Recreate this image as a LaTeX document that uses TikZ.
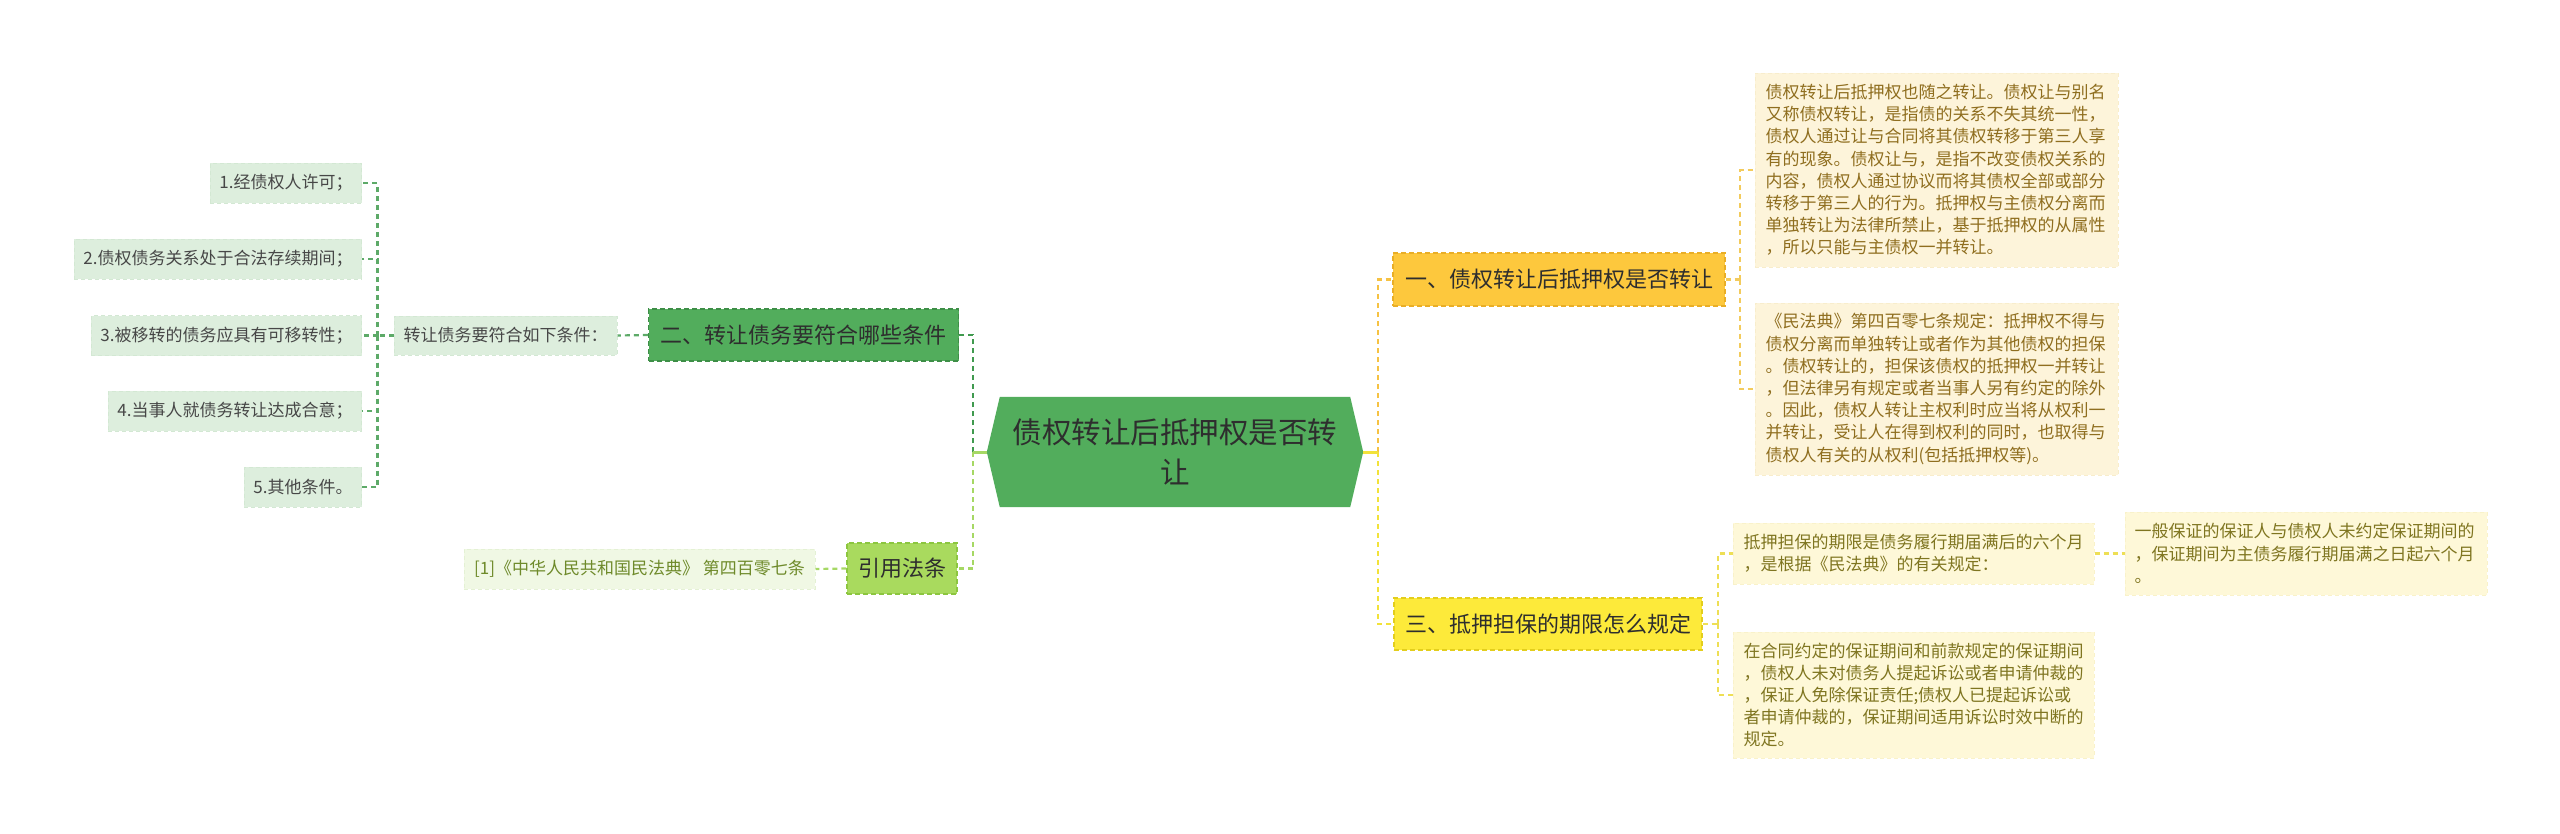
\documentclass[tikz,border=0pt]{standalone}
\usepackage{fontspec}
\setmainfont{Noto Sans CJK SC}
\usetikzlibrary{backgrounds}
\definecolor{cfill}{HTML}{52AD5C}
\definecolor{cborder}{HTML}{3E8E47}
\definecolor{itemfill}{HTML}{DDEEDD}
\definecolor{itemborder}{HTML}{D3E8D3}
\definecolor{citefill}{HTML}{A9DA5E}
\definecolor{citeborder}{HTML}{8CC63F}
\definecolor{lawfill}{HTML}{F0F8E4}
\definecolor{lawborder}{HTML}{E4F1D4}
\definecolor{lawtext}{HTML}{6E8A2A}
\definecolor{amberfill}{HTML}{FDC83D}
\definecolor{amberborder}{HTML}{E9AE26}
\definecolor{yelfill}{HTML}{FDEA3A}
\definecolor{yelborder}{HTML}{E3CE1C}
\definecolor{creamfill}{HTML}{FDF4DA}
\definecolor{creamborder}{HTML}{F8EDCC}
\definecolor{creamtext}{HTML}{8F6E1F}
\definecolor{paleyfill}{HTML}{FEF8D8}
\definecolor{paleyborder}{HTML}{F9F2CA}
\definecolor{paleytext}{HTML}{7F7520}
\definecolor{darkgline}{HTML}{409A4F}
\definecolor{midgline}{HTML}{5DAA68}
\definecolor{lightgline}{HTML}{A6D864}
\definecolor{amberline}{HTML}{F6C243}
\definecolor{amberline2}{HTML}{F3CB5C}
\definecolor{yelline}{HTML}{F2E23A}
\definecolor{yelline2}{HTML}{EEDF55}
\definecolor{darktext}{HTML}{2E2E2E}
\definecolor{itemtext}{HTML}{474747}
\tikzset{
  link/.style={line width=2.2pt, dash pattern=on 5pt off 4pt},
  stub/.style={line width=3pt},
  ctext/.style={minimum width=376pt, minimum height=110pt, inner sep=0pt, align=center,
    text=darktext, font=\fontsize{29.5pt}{40pt}\selectfont},
  second/.style={minimum height=52pt, inner xsep=11pt, inner ysep=0pt, text=darktext,
    font=\fontsize{22pt}{26pt}\selectfont, line width=1.4pt, dash pattern=on 5pt off 3pt},
  item/.style={fill=itemfill, draw=itemborder, line width=1pt, dash pattern=on 4pt off 3pt,
    minimum height=40pt, inner xsep=9pt, inner ysep=0pt, text=itemtext,
    font=\fontsize{17pt}{20pt}\selectfont},
  tbox/.style={line width=1pt, dash pattern=on 4pt off 3pt, inner xsep=10.5pt, inner ysep=0pt,
    text width=342pt, align=left, font=\fontsize{17pt}{22.2pt}\selectfont},
  creambox/.style={tbox, fill=creamfill, draw=creamborder, text=creamtext},
  paleybox/.style={tbox, fill=paleyfill, draw=paleyborder, text=paleytext}
}
\begin{document}
\begin{tikzpicture}[x=1pt,y=-1pt]
\useasboundingbox (0,0) rectangle (2560,833);
\begin{scope}[on background layer]
\fill[white] (0,0) rectangle (2560,833);
\end{scope}

% central node
\node[ctext] (c) at (1175,452) {债权转让后抵押权是否转\\让};
\begin{scope}[on background layer]
\fill[cfill] (c.west) -- ([xshift=13pt]c.north west) -- ([xshift=-13pt]c.north east)
  -- (c.east) -- ([xshift=-13pt]c.south east) -- ([xshift=13pt]c.south west) -- cycle;
\end{scope}

% left side
\node[second, fill=cfill, draw=cborder, minimum width=310pt] (n2) at (803.5,335) {二、转让债务要符合哪些条件};
\node[item, minimum width=223pt, minimum height=39pt] (n3) at (505.5,335.5) {转让债务要符合如下条件：};
\node[item, anchor=east] (i1) at (362,183) {1.经债权人许可；};
\node[item, anchor=east] (i2) at (362,259) {2.债权债务关系处于合法存续期间；};
\node[item, anchor=east] (i3) at (362,335.5) {3.被移转的债务应具有可移转性；};
\node[item, anchor=east] (i4) at (362,411) {4.当事人就债务转让达成合意；};
\node[item, anchor=east] (i5) at (362,487) {5.其他条件。};
\node[second, fill=citefill, draw=citeborder, minimum width=110pt, minimum height=51pt] (n4) at (902,568.5) {引用法条};
\node[item, fill=lawfill, draw=lawborder, text=lawtext, minimum width=351pt] (n5) at (639.5,569) {[1]《中华人民共和国民法典》 第四百零七条};

% right side
\node[second, fill=amberfill, draw=amberborder, minimum width=332pt, minimum height=53pt] (r1) at (1559,279.5) {一、债权转让后抵押权是否转让};
\node[second, fill=yelfill, draw=yelborder, minimum width=308pt] (r3) at (1548,624) {三、抵押担保的期限怎么规定};
\node[creambox, minimum height=194pt] (A) at (1936.5,170) {债权转让后抵押权也随之转让。债权让与别名\\又称债权转让，是指债的关系不失其统一性，\\债权人通过让与合同将其债权转移于第三人享\\有的现象。债权让与，是指不改变债权关系的\\内容，债权人通过协议而将其债权全部或部分\\转移于第三人的行为。抵押权与主债权分离而\\单独转让为法律所禁止，基于抵押权的从属性\\，所以只能与主债权一并转让。};
\node[creambox, minimum height=172pt] (B) at (1936.5,389) {《民法典》第四百零七条规定：抵押权不得与\\债权分离而单独转让或者作为其他债权的担保\\。债权转让的，担保该债权的抵押权一并转让\\，但法律另有规定或者当事人另有约定的除外\\。因此，债权人转让主权利时应当将从权利一\\并转让，受让人在得到权利的同时，也取得与\\债权人有关的从权利(包括抵押权等)。};
\node[paleybox, minimum height=61pt, text width=340pt] (C) at (1913.5,553.5) {抵押担保的期限是债务履行期届满后的六个月\\，是根据《民法典》的有关规定：};
\node[paleybox, minimum height=83pt, text width=343pt, inner xsep=9.5pt] (D) at (2306,553.5) {一般保证的保证人与债权人未约定保证期间的\\，保证期间为主债务履行期届满之日起六个月\\。};
\node[paleybox, minimum height=126pt, text width=340pt] (E) at (1913.5,695) {在合同约定的保证期间和前款规定的保证期间\\，债权人未对债务人提起诉讼或者申请仲裁的\\，保证人免除保证责任;债权人已提起诉讼或\\者申请仲裁的，保证期间适用诉讼时效中断的\\规定。};

% bus coordinates
\coordinate (lb) at (973,452);
\coordinate (rb) at (1378,452);
\coordinate (ib) at (377.5,335.5);
\coordinate (ab) at (1740,279.5);
\coordinate (cb) at (1718,624);

% left connectors
\draw[link, darkgline] (lb) |- (n2.east);
\draw[link, lightgline] (lb) |- (n4.east);
\draw[stub, lightgline] (c.west) -- (lb);
\draw[link, midgline] (n2.west) -- (n3.east);
\draw[link, midgline] (n3.west) -- (ib);
\draw[link, midgline] (ib) |- (i1.east);
\draw[link, midgline] (ib) |- (i2.east);
\draw[link, midgline] (ib) -- (i3.east);
\draw[link, midgline] (ib) |- (i4.east);
\draw[link, midgline] (ib) |- (i5.east);
\draw[link, lightgline] (n4.west) -- (n5.east);

% right connectors
\draw[link, amberline] (rb) |- (r1.west);
\draw[link, yelline] (rb) |- (r3.west);
\draw[stub, yelline] (c.east) -- (rb);
\draw[link, amberline2] (r1.east) -- (ab);
\draw[link, amberline2] (ab) |- (A.west);
\draw[link, amberline2] (ab) |- (B.west);
\draw[link, yelline2] (r3.east) -- (cb);
\draw[link, yelline2] (cb) |- (C.west);
\draw[link, yelline2] (cb) |- (E.west);
\draw[link, yelline2] (C.east) -- (D.west);
\end{tikzpicture}
\end{document}
